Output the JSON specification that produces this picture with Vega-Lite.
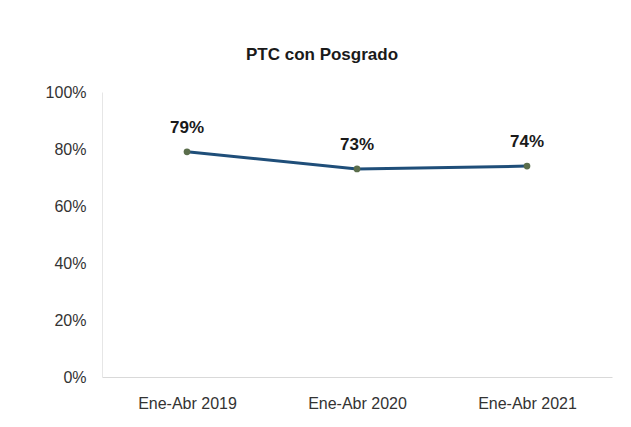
{
  "$schema": "https://vega.github.io/schema/vega-lite/v6.json",
  "autosize": "none",
  "width": 510,
  "height": 285,
  "padding": {"left": 102, "top": 92, "right": 19, "bottom": 50},
  "background": "white",
  "title": {
    "text": "PTC con Posgrado",
    "font": "Liberation Sans",
    "fontSize": 17,
    "fontWeight": "bold",
    "color": "#1a1a1a",
    "anchor": "middle",
    "dx": -35,
    "offset": 20
  },
  "data": {
    "values": [
      {"periodo": "Ene-Abr 2019", "valor": 0.79},
      {"periodo": "Ene-Abr 2020", "valor": 0.73},
      {"periodo": "Ene-Abr 2021", "valor": 0.74}
    ]
  },
  "config": {
    "view": {"stroke": null},
    "font": "Liberation Sans"
  },
  "encoding": {
    "x": {
      "field": "periodo",
      "type": "ordinal",
      "scale": {"type": "point", "padding": 0.5},
      "axis": {
        "title": null,
        "labelAngle": 0,
        "labelFont": "Liberation Sans",
        "labelFontSize": 16,
        "labelColor": "#333333",
        "labelPadding": 18,
        "ticks": false,
        "domainColor": "#d9d9d9",
        "grid": false
      }
    },
    "y": {
      "field": "valor",
      "type": "quantitative",
      "scale": {"domain": [0, 1]},
      "axis": {
        "title": null,
        "format": ".0%",
        "values": [0, 0.2, 0.4, 0.6, 0.8, 1],
        "labelFont": "Liberation Sans",
        "labelFontSize": 16,
        "labelColor": "#333333",
        "labelPadding": 16,
        "ticks": false,
        "domainColor": "#e6e6e6",
        "grid": false
      }
    }
  },
  "layer": [
    {"mark": {"type": "line", "color": "#1f4e79", "strokeWidth": 3}},
    {"mark": {"type": "point", "filled": true, "color": "#5b6e4c", "size": 45, "opacity": 1}},
    {
      "mark": {"type": "text", "dy": -24, "fontSize": 17, "fontWeight": "bold", "font": "Liberation Sans", "color": "#1a1a1a"},
      "encoding": {"text": {"field": "valor", "type": "quantitative", "format": ".0%"}}
    }
  ]
}
